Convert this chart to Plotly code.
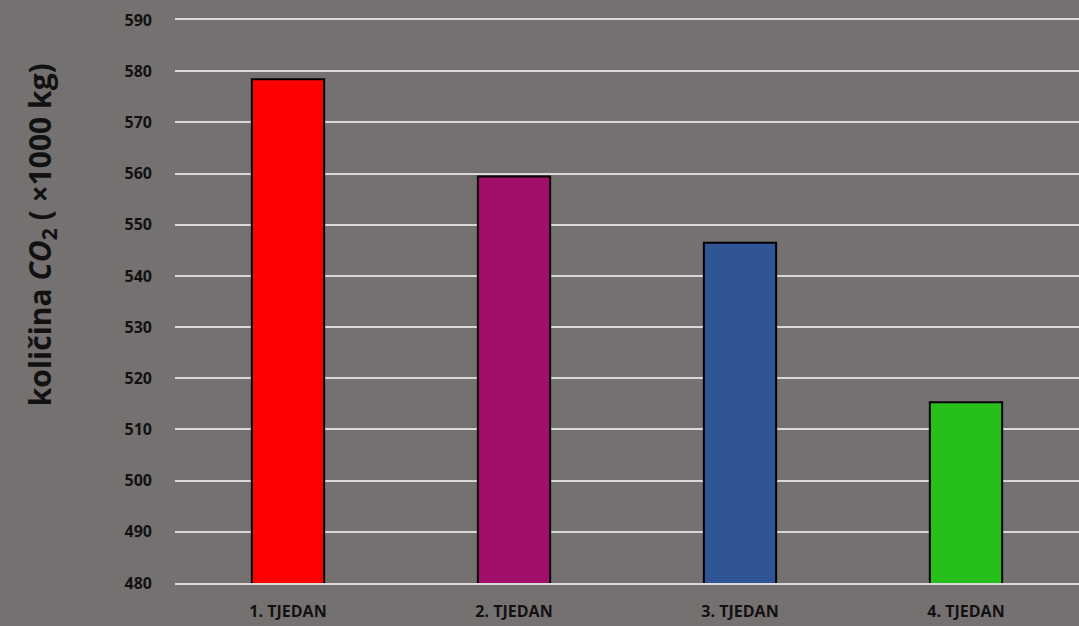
import plotly.graph_objects as go

categories = ["1. TJEDAN", "2. TJEDAN", "3. TJEDAN", "4. TJEDAN"]
values = [578.4, 559.4, 546.5, 515.3]
colors = ["#FF0000", "#A10E6B", "#2F5597", "#27C01B"]
y_ticks = list(range(480, 591, 10))

fig = go.Figure()
fig.add_trace(go.Bar(
    x=categories, y=values,
    marker=dict(color=colors, line=dict(color="#000000", width=2)),
    width=0.32,
))

fig.update_layout(
    width=1079, height=626,
    paper_bgcolor="#767171", plot_bgcolor="#767171",
    margin=dict(l=175, r=0, t=20, b=43),
    showlegend=False,
    font=dict(family="Open Sans", color="#111111"),
    xaxis=dict(
        showgrid=False, zeroline=False,
        showline=True, mirror=True, linecolor="#D9D9D9", linewidth=1.5,
        tickfont=dict(size=16, family="Open Sans", color="#111111", weight="bold"),
        ticks="", ticklabelstandoff=13,
    ),
    yaxis=dict(
        range=[480, 590], tickvals=y_ticks,
        showgrid=True, gridcolor="#D9D9D9", gridwidth=1.5,
        zeroline=False, showline=False,
        ticks="", ticklabelstandoff=22,
        tickfont=dict(size=16, family="Open Sans", color="#111111", weight="bold"),
    ),
    annotations=[dict(
        text="količina <i>CO</i><sub>2</sub> ( ×1000 kg)",
        xref="paper", yref="paper", x=-0.148, y=0.618,
        xanchor="center", yanchor="middle", textangle=-90, showarrow=False,
        font=dict(size=30, family="Open Sans", color="#111111", weight="bold"),
    )],
)

fig.write_html("out.html", config={"displayModeBar": False},
               post_script="document.body.style.margin='0';document.body.style.background='#767171';")
